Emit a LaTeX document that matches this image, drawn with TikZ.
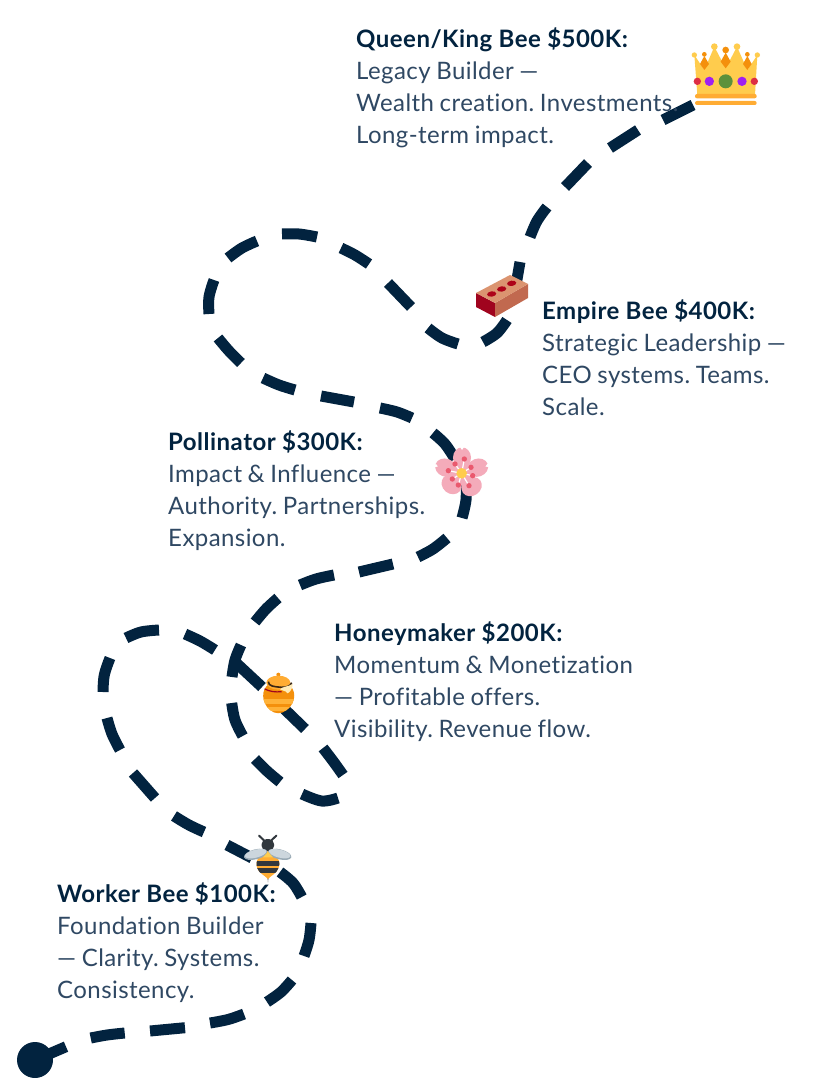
\documentclass[tikz,border=0pt]{standalone}
\usepackage{fontspec}
\setmainfont{Lato}
\newfontfamily\headfont[LetterSpace=2.0,Ligatures=NoCommon]{Lato Bold}
\newfontfamily\bodyfont[LetterSpace=1.8,WordSpace=0.85,Ligatures=NoCommon]{Lato}
\frenchspacing
\definecolor{navy}{HTML}{02233F}
\definecolor{bodyink}{HTML}{2F4863}
\definecolor{cy}{HTML}{FFCC4D}
\definecolor{co}{HTML}{F4900C}
\definecolor{cb}{HTML}{FFAC33}
\definecolor{cr}{HTML}{DD2E44}
\definecolor{cp}{HTML}{A020F0}
\definecolor{cg}{HTML}{5C913B}
\definecolor{brickd}{HTML}{A0041E}
\definecolor{bricks}{HTML}{C1694F}
\definecolor{brickt}{HTML}{DB9470}
\definecolor{petal}{HTML}{F4ABBA}
\definecolor{pdot}{HTML}{EA596E}
\definecolor{wing}{HTML}{CCD6DD}
\definecolor{wingd}{HTML}{99AAB5}
\definecolor{beed}{HTML}{31373D}
\tikzset{
  trail/.style={draw=navy,line width=11pt,line cap=butt},
  blurb/.style={anchor=north west,inner sep=0pt,align=left,text=bodyink,font=\fontsize{24}{32}\selectfont\bodyfont\frenchspacing},
}
\newcommand{\hd}[1]{{\headfont\color{navy}#1}}
\newcommand{\seg}[1]{\draw[trail] plot[smooth,tension=0.6] coordinates {#1};}
\begin{document}
\begin{tikzpicture}[x=1pt,y=-1pt]
\useasboundingbox (0,0) rectangle (825,1078);
\fill[white] (0,0) rectangle (825,1078);
% trail
\fill[navy] (35,1060) circle (18);
\seg{(35,1060) (66,1046.7)}
\seg{(90.7,1038) (107,1035) (124.7,1033)}
\seg{(150,1031) (185,1027.7)}
\seg{(210,1023) (228,1019.5) (244,1014)}
\seg{(267,1002) (281,992) (292,980)}
\seg{(304,956) (309,940) (311,923)}
\seg{(301.7,897) (293,883) (280,872)}
\seg{(227,845) (252,858)}
\seg{(174,816) (189,825) (204,832)}
\seg{(133,773) (155,798)}
\seg{(107,718) (112,734) (120,750)}
\seg{(103,692) (104.3,675) (110,658)}
\seg{(126,638) (141,632) (159,630)}
\seg{(185,634) (200,641) (215,650)}
\seg{(233,660) (262,687)}
\seg{(241,645) (235,660) (232,677)}
\seg{(273,698) (305,729)}
\seg{(323,748) (333,761) (343,775)}
\seg{(338,798) (321.7,801) (302,794)}
\seg{(280,782) (267,771) (255,759)}
\seg{(242.7,736) (235,720) (231.7,703)}
\seg{(278,598) (266,609) (255,622)}
\seg{(300,585) (316,579) (334,575)}
\seg{(359,572) (393,564)}
\seg{(418,557) (433,549) (447,538)}
\seg{(462,518) (466,500) (466,480)}
\seg{(433,433) (445,444) (455,459)}
\seg{(412,418) (397,412) (380,408)}
\seg{(354,402) (321,396)}
\seg{(295,390) (279,385) (263,378)}
\seg{(241,363) (229,351) (218,338)}
\seg{(209,314) (209,297) (214,280)}
\seg{(228,258) (242,248) (257,241)}
\seg{(282,234) (299,234) (317,237)}
\seg{(341,248) (355,255) (369,264)}
\seg{(388,283) (411,307)}
\seg{(428,328) (442,338) (458,344)}
\seg{(483,342) (497,333) (507,320)}
\seg{(520,262) (516,285)}
\seg{(530,237) (537,221) (547,207)}
\seg{(565,187) (588,163)}
\seg{(610,148) (638,130)}
\seg{(663,120) (693,105)}
% crown
\begin{scope}[shift={(660,20)},scale=1/3]
 \fill[cy] (103,105) -- (112,225) -- (285,225) -- (292,105) -- (262,150) -- (231,80) -- (197,145) -- (163,80) -- (133,150) -- cycle;
 \foreach \x/\y/\r in {103/105/8,163/80/10,231/80/10,292/105/8} \fill[cy] (\x,\y) circle (\r);
 \foreach \x/\y/\r in {133/103/7,197/90/10,262/103/7} \fill[co] (\x,\y) circle (\r);
 \fill[co] (133,108) -- (120,132) -- (133,150) -- (147,132) -- cycle;
 \fill[co] (197,98) -- (182,125) -- (197,145) -- (212,125) -- cycle;
 \fill[co] (262,108) -- (249,132) -- (262,150) -- (275,132) -- cycle;
 \fill[cr] (112,184) circle (11);
 \fill[cp] (148,184) circle (14);
 \fill[cg] (197,184) circle (21);
 \fill[cp] (246,184) circle (14);
 \fill[cr] (283,184) circle (11);
 \fill[cb,rounded corners=2pt] (105,222) rectangle (290,235);
 \fill[cb,rounded corners=2pt] (105,243) rectangle (290,255);
\end{scope}
% brick
\begin{scope}[shift={(460,260)},scale=1/3]
 \fill[brickd] (48,99) -- (105,129) -- (105,171) -- (48,141) -- cycle;
 \fill[bricks] (105,129) -- (204,72) -- (204,114) -- (105,171) -- cycle;
 \fill[brickt] (48,99) -- (150,45) -- (204,72) -- (105,129) -- cycle;
 \foreach \x/\y in {95/102,125/87,155/70} \fill[brickd!85!red,rotate around={8:(\x,\y)}] (\x,\y) ellipse [x radius=14,y radius=8];
\end{scope}
% flower
\begin{scope}[shift={(425,435)},scale=1/3]
 \fill[petal] (110,115) circle (36);
 \foreach \x/\y/\a/\rx/\ry in {111/68/0/27/31,62/98/70/27/32,80/148/-40/32/28,140/155/35/32/27,158/98/-70/27/32}
   \fill[petal,rotate around={\a:(\x,\y)}] (\x,\y) ellipse [x radius=\rx,y radius=\ry];
 \foreach \x/\y/\a in {111/38/0,32/92/70,57/172/-40,163/180/35,188/92/-70}
   \fill[white,rotate around={\a:(\x,\y)}] (\x-6,\y-2) -- (\x+6,\y-2) -- (\x,\y+7) -- cycle;
 \foreach \x/\y in {118/72,90/87,70/107,82/132,100/150,132/152,143/122,138/97}
   \draw[white,line width=1.2pt] (110,115) -- (\x,\y);
 \foreach \x/\y in {118/72,90/87,70/107,82/132,100/150,132/152,143/122,138/97}
   \fill[pdot] (\x,\y) circle (8);
 \fill[cy] (110,115) circle (16);
\end{scope}
% pot
\begin{scope}[shift={(250,660)},scale=1/3]
 \fill[co] (85,44) circle (6);
 \fill[co] (58,72) .. controls (33,85) and (33,128) .. (60,150) .. controls (75,163) and (95,163) .. (110,150) .. controls (140,128) and (140,85) .. (112,72) -- cycle;
 \begin{scope}
  \clip (58,72) .. controls (33,85) and (33,128) .. (60,150) .. controls (75,163) and (95,163) .. (110,150) .. controls (140,128) and (140,85) .. (112,72) -- cycle;
  \fill[cb!80!cy] (30,118) rectangle (140,132);
  \fill[cb!80!cy] (30,140) rectangle (140,152);
  \draw[brickd,line width=1.2pt] (42,86) .. controls (60,95) and (75,97) .. (95,95);
 \end{scope}
 \fill[cb] (85,68) ellipse [x radius=36,y radius=21];
 \draw[black!70!brown,line width=1.6pt] (55,65) .. controls (55,80) and (75,80) .. (95,82) .. controls (110,82) and (122,78) .. (125,68);
 \fill[cy!40!white] (90,88) .. controls (95,80) and (115,80) .. (128,72) .. controls (128,85) and (120,98) .. (112,100) .. controls (108,90) and (98,95) .. (90,88) -- cycle;
\end{scope}
% bee
\begin{scope}[shift={(235,825)},scale=1/3]
 \draw[beed,line width=2pt,line cap=round] (72,32) -- (87,46);
 \draw[beed,line width=2pt,line cap=round] (124,32) -- (109,46);
 \fill[beed,rounded corners=5pt] (80,42) rectangle (117,78);
 \fill[beed] (97,150) -- (101,150) -- (99,172) -- cycle;
 \fill[cb] (99,78) .. controls (125,85) and (140,110) .. (130,130) .. controls (125,145) and (110,150) .. (99,162) .. controls (88,150) and (72,145) .. (67,130) .. controls (58,110) and (73,85) .. (99,78) -- cycle;
 \begin{scope}
  \clip (99,78) .. controls (125,85) and (140,110) .. (130,130) .. controls (125,145) and (110,150) .. (99,162) .. controls (88,150) and (72,145) .. (67,130) .. controls (58,110) and (73,85) .. (99,78) -- cycle;
  \fill[beed] (50,107) rectangle (150,122);
  \fill[beed] (50,130) rectangle (150,144);
 \end{scope}
 \fill[wingd,rotate around={14:(62,88)}] (62,88) ellipse [x radius=36,y radius=15];
 \fill[wingd,rotate around={-14:(134,88)}] (134,88) ellipse [x radius=36,y radius=15];
 \fill[wing,rotate around={14:(62,86)}] (62,86) ellipse [x radius=33,y radius=12];
 \fill[wing,rotate around={-14:(134,86)}] (134,86) ellipse [x radius=33,y radius=12];
 \fill[cy] (84,97) -- (99,80) -- (114,97) -- cycle;
\end{scope}
% texts
\node[blurb] (queen) at (356,28) {\hd{Queen/King Bee \$500K:}\\Legacy Builder —\\Wealth creation. Investments.\\Long-term impact.};
\node[blurb] (empire) at (542,300) {\hd{Empire Bee \$400K:}\\Strategic Leadership —\\CEO systems. Teams.\\Scale.};
\node[blurb] (pollinator) at (168,431) {\hd{Pollinator \$300K:}\\Impact \& Influence —\\Authority. Partnerships.\\Expansion.};
\node[blurb] (honey) at (334,622) {\hd{Honeymaker \$200K:}\\Momentum \& Monetization\\— Profitable offers.\\Visibility. Revenue flow.};
\node[blurb] (worker) at (57,883) {\hd{Worker Bee \$100K:}\\Foundation Builder\\— Clarity. Systems.\\Consistency.};
\end{tikzpicture}
\end{document}
